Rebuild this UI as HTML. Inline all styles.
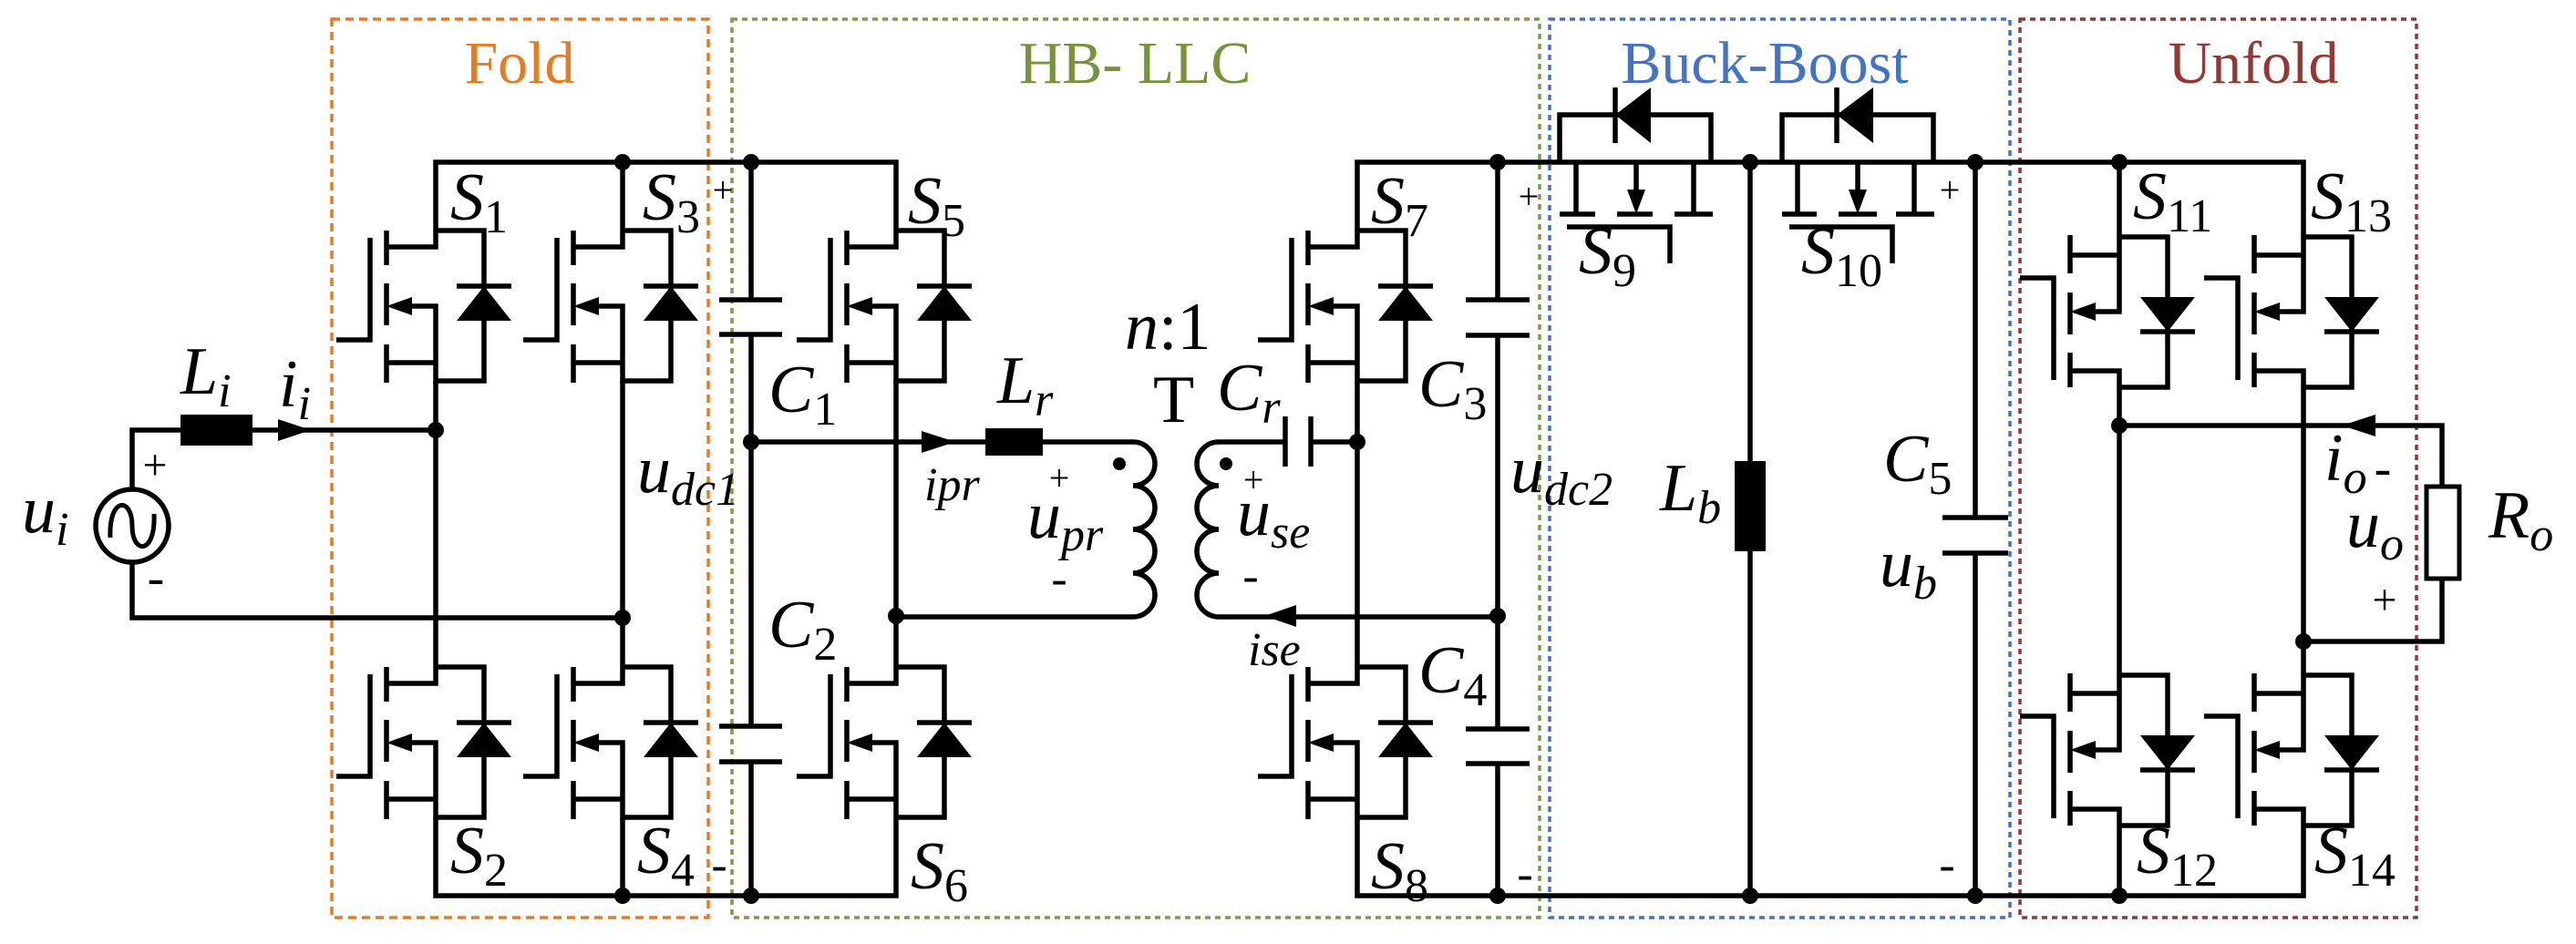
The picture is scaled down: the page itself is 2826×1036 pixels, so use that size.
<!DOCTYPE html>
<html><head><meta charset="utf-8"><style>
html,body{margin:0;padding:0;background:#fff;}
svg{display:block;font-family:"Liberation Serif","DejaVu Serif",serif;}
svg text{font-family:"Liberation Serif","DejaVu Serif",serif;}
</style></head><body>
<svg width="2826" height="1036" viewBox="0 0 2826 1036" xmlns="http://www.w3.org/2000/svg">
<defs>
<g id="sw">
<path d="M0,-83 V-65 H-54 M0,-83 H53 V82 H0 V0 H-30 M0,62 H-54 M-54,-83 V-45 M-54,-25 V21 M-54,42 V84 M-72,-75 V37 H-109 M23,-22 H83" stroke="#000" stroke-width="5.5" fill="none"/>
<polygon points="23,16 83,16 53,-22" fill="#000"/>
<polygon points="-54,0 -26,-10 -26,10" fill="#000"/>
</g>
</defs>
<g fill="none" stroke-width="3.5" stroke-dasharray="9,6">
<rect x="364" y="21" width="413" height="986" stroke="#E97A22"/>
<rect x="803" y="21" width="886" height="986" stroke="#7F9A48" stroke-dasharray="6,5"/>
<rect x="1700" y="21" width="505" height="986" stroke="#4472C4" stroke-dasharray="6,5"/>
<rect x="2216" y="21" width="435" height="986" stroke="#953735" stroke-dasharray="6,5"/>
</g>
<g font-size="66" text-anchor="middle">
<text x="570" y="91" fill="#E97A22">Fold</text>
<text x="1245" y="91" fill="#77933C">HB- LLC</text>
<text x="1936" y="91" fill="#4472C4">Buck-Boost</text>
<text x="2472" y="91" fill="#953735">Unfold</text>
</g>
<use href="#sw" transform="translate(478,336)"/>
<use href="#sw" transform="translate(683,336)"/>
<use href="#sw" transform="translate(478,815)"/>
<use href="#sw" transform="translate(683,815)"/>
<use href="#sw" transform="translate(983,336)"/>
<use href="#sw" transform="translate(983,815)"/>
<use href="#sw" transform="translate(1489,336)"/>
<use href="#sw" transform="translate(1489,815)"/>
<use href="#sw" transform="translate(2325,342) scale(1,-1)"/>
<use href="#sw" transform="translate(2527,342) scale(1,-1)"/>
<use href="#sw" transform="translate(2325,823) scale(1,-1)"/>
<use href="#sw" transform="translate(2527,823) scale(1,-1)"/>
<g stroke="#000" stroke-width="5.5" fill="none">
<path d="M478,253 V178 H983 V253 M478,898 V983 H983 V898 M683,253 V178 M683,898 V983 M478,418 V732 M683,418 V732"/>
<path d="M145,536 V472 H198 M276,472 H478 M145,618 V678 H683"/>
<circle cx="145" cy="577" r="40"/>
<path d="M121,590 C119,545 145,545 145,577 C145,609 171,609 169,564" stroke-width="5"/>
<path d="M824,178 V329 M824,367 V797 M824,836 V983 M789,329 H858 M789,367 H858 M789,797 H858 M789,836 H858"/>
<path d="M824,485 H1081 M1144,485 H1243 a24,24 0 0 1 0,48 a24,24 0 0 1 0,48 a24,24 0 0 1 0,48 a24,24 0 0 1 0,48 H983 M983,418 V732"/>
<path d="M1410,485 H1337 a24,24 0 0 0 0,48 a24,24 0 0 0 0,48 a24,24 0 0 0 0,48 a24,24 0 0 0 0,48 H1643 M1410,457 V512 M1438,457 V512 M1438,485 H1489"/>
<path d="M1489,253 V178 H2527 V259 M1489,418 V732 M1489,898 V983 H2527 V906"/>
<path d="M1643,178 V329 M1643,368 V800 M1643,838 V983 M1608,329 H1678 M1608,368 H1678 M1608,800 H1678 M1608,838 H1678"/>
<path d="M1711,178 V126 H1877 V178 M1772,96 V157 M1729,178 V235 M1711,235 H1750 M1795,178 V212 M1774,235 H1813 M1858,178 V235 M1837,235 H1879 M1719,249 H1832 V289"/>
<path d="M1955,178 V126 H2121 V178 M2015,96 V157 M1972,178 V235 M1955,235 H1993 M2038,178 V212 M2017,235 H2059 M2100,178 V235 M2080,235 H2122 M1963,249 H2076 V289"/>
<path d="M1920,178 V506 M1920,605 V983 M2167,178 V568 M2167,607 V983 M2131,568 H2203 M2131,607 H2203"/>
<path d="M2325,178 V259 M2325,424 V740 M2325,906 V983 M2527,424 V740 M2325,467 H2679 V534 M2679,635 V704 H2527"/>
<rect x="2662" y="534" width="36" height="101" stroke-width="5"/>
</g>
<g fill="#000">
<rect x="198" y="455" width="79" height="34"/>
<rect x="1081" y="470" width="63" height="30"/>
<rect x="1903" y="506" width="34" height="99"/>
<polygon points="341,472 305,460 305,484"/>
<polygon points="1048,485 1011,473 1011,497"/>
<polygon points="1387,676 1422,664 1422,688"/>
<polygon points="2569,467 2606,455 2606,479"/>
<polygon points="1772,126 1811,96 1811,157"/>
<polygon points="2015,126 2055,96 2055,157"/>
<polygon points="1795,235 1785,208 1805,208"/>
<polygon points="2038,235 2028,208 2048,208"/>
<circle cx="683" cy="178" r="9"/><circle cx="824" cy="178" r="9"/><circle cx="478" cy="472" r="9"/>
<circle cx="683" cy="678" r="9"/><circle cx="683" cy="983" r="9"/><circle cx="824" cy="983" r="9"/>
<circle cx="824" cy="485" r="9"/><circle cx="983" cy="676" r="9"/><circle cx="1489" cy="485" r="9"/>
<circle cx="1643" cy="178" r="9"/><circle cx="1643" cy="676" r="9"/><circle cx="1643" cy="983" r="9"/>
<circle cx="1920" cy="178" r="9"/><circle cx="1920" cy="983" r="9"/><circle cx="2167" cy="178" r="9"/>
<circle cx="2167" cy="983" r="9"/><circle cx="2325" cy="178" r="9"/><circle cx="2325" cy="983" r="9"/>
<circle cx="2325" cy="467" r="9"/><circle cx="2527" cy="704" r="9"/>
<circle cx="1228" cy="509" r="7"/><circle cx="1345" cy="509" r="7"/>
</g>
<g font-size="74" font-style="italic" fill="#000">
<text x="494" y="241">S<tspan font-size="52" font-style="normal" dy="14">1</tspan></text>
<text x="705" y="241">S<tspan font-size="52" font-style="normal" dy="14">3</tspan></text>
<text x="494" y="958">S<tspan font-size="52" font-style="normal" dy="14">2</tspan></text>
<text x="699" y="958">S<tspan font-size="52" font-style="normal" dy="14">4</tspan></text>
<text x="996" y="245">S<tspan font-size="52" font-style="normal" dy="14">5</tspan></text>
<text x="999" y="975">S<tspan font-size="52" font-style="normal" dy="14">6</tspan></text>
<text x="1504" y="245">S<tspan font-size="52" font-style="normal" dy="14">7</tspan></text>
<text x="1504" y="975">S<tspan font-size="52" font-style="normal" dy="14">8</tspan></text>
<text x="1732" y="300">S<tspan font-size="52" font-style="normal" dy="14">9</tspan></text>
<text x="1976" y="300">S<tspan font-size="52" font-style="normal" dy="14">10</tspan></text>
<text x="2340" y="240">S<tspan font-size="52" font-style="normal" dy="14">11</tspan></text>
<text x="2535" y="240">S<tspan font-size="52" font-style="normal" dy="14">13</tspan></text>
<text x="2344" y="958">S<tspan font-size="52" font-style="normal" dy="14">12</tspan></text>
<text x="2539" y="958">S<tspan font-size="52" font-style="normal" dy="14">14</tspan></text>
<text x="843" y="452">C<tspan font-size="52" font-style="normal" dy="14">1</tspan></text>
<text x="843" y="710">C<tspan font-size="52" font-style="normal" dy="14">2</tspan></text>
<text x="1556" y="446">C<tspan font-size="52" font-style="normal" dy="14">3</tspan></text>
<text x="1556" y="760">C<tspan font-size="52" font-style="normal" dy="14">4</tspan></text>
<text x="2066" y="528">C<tspan font-size="52" font-style="normal" dy="14">5</tspan></text>
<text x="1335" y="450">C<tspan font-size="52" dy="14">r</tspan></text>
<text x="198" y="432">L<tspan font-size="52" dy="14">i</tspan></text>
<text x="306" y="446">i<tspan font-size="52" dy="14">i</tspan></text>
<text x="1094" y="442">L<tspan font-size="52" dy="14">r</tspan></text>
<text x="1821" y="560">L<tspan font-size="52" dy="14">b</tspan></text>
<text x="24" y="584">u<tspan font-size="52" dy="14">i</tspan></text>
<text x="699" y="540">u<tspan font-size="52" dy="14">dc1</tspan></text>
<text x="1657" y="540">u<tspan font-size="52" dy="14">dc2</tspan></text>
<text x="1127" y="590">u<tspan font-size="52" dy="14">pr</tspan></text>
<text x="1357" y="587">u<tspan font-size="52" dy="14">se</tspan></text>
<text x="2062" y="643">u<tspan font-size="52" dy="14">b</tspan></text>
<text x="2574" y="600">u<tspan font-size="52" dy="14">o</tspan></text>
<text x="2550" y="527">i<tspan font-size="52" dy="14">o</tspan></text>
<text x="2730" y="590">R<tspan font-size="52" dy="14">o</tspan></text>
<text x="1014" y="549" font-size="52">ipr</text>
<text x="1369" y="730" font-size="52">ise</text>
<text x="1234" y="383">n<tspan font-style="normal">:1</tspan></text>
<text x="1265" y="463" font-style="normal">T</text>
</g>
<g font-size="48" fill="#000" text-anchor="middle">
<text x="170" y="526">+</text><text x="171" y="652" font-size="56">-</text>
<text x="793" y="222" font-size="40">+</text><text x="789" y="966" font-size="52">-</text>
<text x="1677" y="229" font-size="40">+</text><text x="1673" y="976" font-size="52">-</text>
<text x="2139" y="222" font-size="40">+</text><text x="2136" y="966" font-size="52">-</text>
<text x="1162" y="538" font-size="40">+</text><text x="1162" y="652" font-size="52">-</text>
<text x="1375" y="540" font-size="40">+</text><text x="1372" y="649" font-size="52">-</text>
<text x="2614" y="532" font-size="56">-</text><text x="2616" y="674">+</text>
</g>
</svg>
</body></html>
